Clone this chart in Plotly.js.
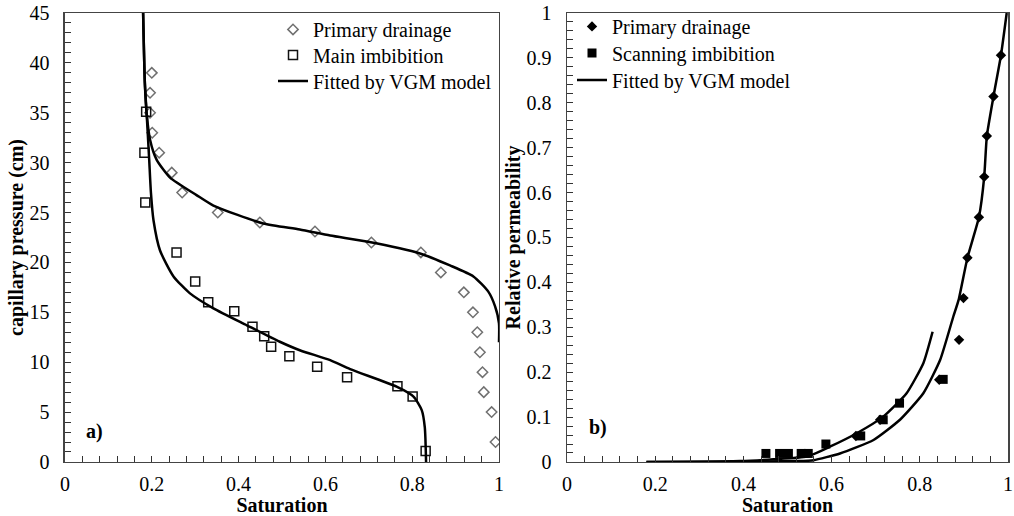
<!DOCTYPE html>
<html>
<head>
<meta charset="utf-8">
<script src="https://cdn.plot.ly/plotly-3.0.1.min.js"></script>
<style>html,body{margin:0;padding:0;background:#fff;}#chart{width:1014px;height:516px;}</style>
</head>
<body>
<div id="chart"></div>
<script>
// ---- Panel a) capillary pressure vs saturation ----
var drainSat = [0.200,0.196,0.196,0.201,0.217,0.246,0.270,0.352,0.449,0.576,0.706,0.820,0.866,0.919,0.940,0.950,0.956,0.962,0.965,0.983,0.992];
var drainPc  = [39,37,35,33,31,29,27,25,24,23.1,22,21,19,17,15,13,11,9,7,5,2];
var imbSat = [0.187,0.183,0.185,0.257,0.300,0.330,0.390,0.432,0.459,0.475,0.517,0.581,0.650,0.766,0.801,0.831];
var imbPc  = [35.1,31,26,21,18.1,16,15.1,13.55,12.6,11.55,10.6,9.55,8.5,7.6,6.55,1.1];
var fitDrainSat = [0.180,0.184,0.188,0.196,0.211,0.242,0.303,0.342,0.457,0.541,0.611,0.695,0.818,0.887,0.941,0.975,0.991,1.0,1.0];
var fitDrainPc  = [45,38,35,32.3,30.3,28.5,26.75,25.7,23.9,23.3,22.7,22.1,20.9,19.7,18.6,17.1,15.6,13.9,12];
var fitImbSat = [0.180,0.184,0.188,0.194,0.198,0.204,0.219,0.250,0.288,0.342,0.419,0.495,0.541,0.611,0.657,0.764,0.803,0.822,0.829,0.832];
var fitImbPc  = [45,38,35,30.3,27,24.2,21.2,18.6,16.9,15.4,13.7,12.05,11.2,10.2,9.3,7.55,6.55,5.2,3.5,0];

// ---- Panel b) relative permeability vs saturation ----
var krDrainSat = [0.655,0.710,0.844,0.889,0.899,0.908,0.934,0.946,0.952,0.967,0.984];
var krDrain    = [0.058,0.094,0.183,0.272,0.365,0.455,0.545,0.635,0.726,0.814,0.906];
var krScanSat = [0.451,0.482,0.502,0.531,0.547,0.587,0.666,0.717,0.754,0.853];
var krScan    = [0.019,0.019,0.019,0.019,0.019,0.040,0.058,0.094,0.131,0.184];
var fitKrDrainSat = [0.18,0.37,0.45,0.52,0.559,0.619,0.695,0.755,0.808,0.846,0.876,0.888,0.908,0.934,0.946,0.952,0.967,0.984,0.997];
var fitKrDrain    = [0,0,0.001,0.002,0.004,0.019,0.049,0.094,0.153,0.227,0.324,0.361,0.455,0.545,0.635,0.726,0.814,0.906,1.0];
var fitKrScanSat = [0.18,0.392,0.468,0.544,0.596,0.657,0.717,0.770,0.808,0.829];
var fitKrScan    = [0,0.002,0.006,0.012,0.034,0.064,0.101,0.153,0.220,0.290];

var serif = 'Liberation Serif';
var lineW = 2.5;

var traces = [
  {x: drainSat, y: drainPc, type:'scatter', mode:'markers', name:'Primary drainage', legend:'legend',
   marker:{symbol:'diamond-open', size:8, color:'#707070', line:{width:1.5}}, xaxis:'x', yaxis:'y'},
  {x: imbSat, y: imbPc, type:'scatter', mode:'markers', name:'Main imbibition', legend:'legend2',
   marker:{symbol:'square-open', size:9, color:'#111', line:{width:1.5}}, xaxis:'x', yaxis:'y'},
  {x: fitDrainSat, y: fitDrainPc, type:'scatter', mode:'lines', name:'Fitted by VGM model', legend:'legend3',
   line:{color:'#000', width:lineW, shape:'spline', smoothing:0.6}, xaxis:'x', yaxis:'y'},
  {x: fitImbSat, y: fitImbPc, type:'scatter', mode:'lines', showlegend:false,
   line:{color:'#000', width:lineW, shape:'spline', smoothing:0.6}, xaxis:'x', yaxis:'y'},

  {x: krDrainSat, y: krDrain, type:'scatter', mode:'markers', name:'Primary drainage', legend:'legend4',
   marker:{symbol:'diamond', size:8, color:'#000'}, xaxis:'x2', yaxis:'y2'},
  {x: krScanSat, y: krScan, type:'scatter', mode:'markers', name:'Scanning imbibition', legend:'legend5',
   marker:{symbol:'square', size:9, color:'#000'}, xaxis:'x2', yaxis:'y2'},
  {x: fitKrDrainSat, y: fitKrDrain, type:'scatter', mode:'lines', name:'Fitted by VGM model', legend:'legend6',
   line:{color:'#000', width:lineW, shape:'spline', smoothing:0.5}, xaxis:'x2', yaxis:'y2'},
  {x: fitKrScanSat, y: fitKrScan, type:'scatter', mode:'lines', showlegend:false,
   line:{color:'#000', width:lineW, shape:'spline', smoothing:0.5}, xaxis:'x2', yaxis:'y2'}
];

function xAxis(dom, anchor) {
  return {domain: dom, anchor: anchor, range:[0,1], dtick:0.2, tick0:0,
    ticks:'inside', ticklen:6, tickwidth:1, tickcolor:'#333',
    minor:{dtick:0.04, ticks:'inside', ticklen:6, tickcolor:'#333'},
    showline:true, linecolor:'#444', linewidth:1.5, mirror:true,
    showgrid:false, zeroline:false, ticklabelstandoff:4,
    tickfont:{family:serif, size:20, color:'#000'},
    title:{text:'<b>Saturation</b>', font:{family:serif, size:20, color:'#000'}, standoff:0},
    automargin:false, fixedrange:true};
}
function yAxis(dom, anchor, rng, dt, mdt, title) {
  return {domain: dom, anchor: anchor, range:rng, dtick:dt, tick0:0,
    ticks:'inside', ticklen:6, tickwidth:1, tickcolor:'#333',
    minor:{dtick:mdt, ticks:'inside', ticklen:6, tickcolor:'#333'},
    showline:true, linecolor:'#444', linewidth:1.5, mirror:true,
    showgrid:false, zeroline:false, ticklabelstandoff:10,
    tickfont:{family:serif, size:20, color:'#000'},
    title:{text:'<b>'+title+'</b>', font:{family:serif, size:20, color:'#000'}, standoff:0},
    automargin:false, fixedrange:true};
}

function legendAt(xPx, rowPx) {
  return {x: xPx/1014, y: 1 - (rowPx - 20.6)/516, xanchor:'left', yanchor:'top',
    bgcolor:'rgba(0,0,0,0)', font:{family:serif, size:20, color:'#000'}, itemwidth:30};
}

var yDom = [0.1047, 0.9748];
var layout = {
  width:1014, height:516,
  margin:{l:0, r:0, t:0, b:0},
  paper_bgcolor:'#fff', plot_bgcolor:'#fff',
  showlegend:true,
  xaxis: xAxis([0.0641, 0.4921], 'y'),
  yaxis: yAxis(yDom, 'x', [0,45], 5, 1, 'capillary pressure (cm)'),
  xaxis2: xAxis([0.5592, 0.9941], 'y2'),
  yaxis2: yAxis(yDom, 'x2', [0,1], 0.1, 0.02, 'Relative permeability'),
  legend: legendAt(273, 30.5),
  legend2: legendAt(273, 56),
  legend3: legendAt(273, 82),
  legend4: legendAt(572, 27.5),
  legend5: legendAt(572, 54),
  legend6: legendAt(572, 81),
  annotations: [
    {text:'<b>a)</b>', xref:'x domain', yref:'y domain', x:0.044, y:0.038, showarrow:false,
     font:{family:serif, size:20, color:'#000'}},
    {text:'<b>b)</b>', xref:'x2 domain', yref:'y2 domain', x:0.045, y:0.047, showarrow:false,
     font:{family:serif, size:20, color:'#000'}}
  ]
};

Plotly.newPlot('chart', traces, layout, {displayModeBar:false, staticPlot:true});
</script>
</body>
</html>
